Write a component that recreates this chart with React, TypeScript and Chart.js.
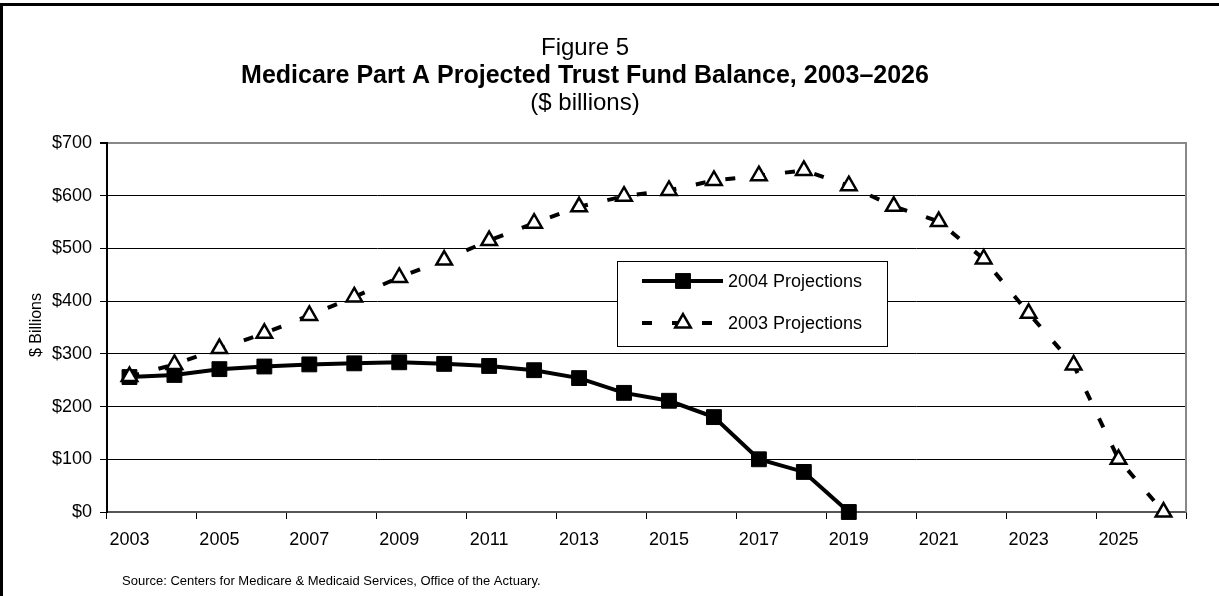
import React, { useEffect, useRef } from 'react';
import { Chart, registerables } from 'chart.js';

Chart.register(...registerables);

const years = ['2003', '2004', '2005', '2006', '2007', '2008', '2009', '2010', '2011', '2012', '2013', '2014', '2015', '2016', '2017', '2018', '2019', '2020', '2021', '2022', '2023', '2024', '2025', '2026'];
const proj2004 = [256, 260, 271, 276, 280, 282, 284, 281, 277, 269, 254, 226, 211, 180, 100, 76, 0, null, null, null, null, null, null, null];
const proj2003 = [257, 280, 310, 339, 373, 408, 445, 478, 515, 548, 579, 599, 610, 629, 638, 648, 619, 580, 551, 480, 377, 279, 100, 0];
const seriesNames = ['2004 Projections', '2003 Projections'];
const yMin = 0;
const yMax = 700;
const yStep = 100;
const titleLines = ['Figure 5', 'Medicare Part A Projected Trust Fund Balance, 2003\u20132026', '($ billions)'];
const yAxisTitle = '$ Billions';
const sourceText = 'Source: Centers for Medicare & Medicaid Services, Office of the Actuary.';

const FONT = '"Liberation Sans", Arial, sans-serif';
const W = 1219;
const H = 596;

const decorPlugin = {
  id: 'decor',
  beforeDraw(chart: any) {
    const ctx = chart.ctx;
    ctx.save();
    ctx.fillStyle = '#fff';
    ctx.fillRect(0, 0, W, H);
    ctx.restore();
  },
  afterDraw(chart: any) {
    const ctx = chart.ctx;
    const area = chart.chartArea;
    ctx.save();
    // outer frame (left and top)
    ctx.fillStyle = '#000';
    ctx.fillRect(0, 3, W, 3);
    ctx.fillRect(0, 3, 3, H - 3);

    // right plot border
    ctx.strokeStyle = '#888';
    ctx.lineWidth = 2;
    ctx.beginPath();
    ctx.moveTo(area.right, area.top - 1);
    ctx.lineTo(area.right, area.bottom);
    ctx.stroke();

    // titles
    ctx.fillStyle = '#000';
    ctx.textAlign = 'center';
    ctx.textBaseline = 'alphabetic';
    const cx = 585;
    ctx.font = `24px ${FONT}`;
    ctx.fillText(titleLines[0], cx, 55);
    ctx.font = `bold 25px ${FONT}`;
    ctx.fillText(titleLines[1], cx, 83);
    ctx.font = `24px ${FONT}`;
    ctx.fillText(titleLines[2], cx, 110);

    // y axis title
    ctx.save();
    ctx.translate(41, 325);
    ctx.rotate(-Math.PI / 2);
    ctx.font = `16px ${FONT}`;
    ctx.textAlign = 'center';
    ctx.textBaseline = 'alphabetic';
    ctx.fillText(yAxisTitle, 0, 0);
    ctx.restore();

    // source
    ctx.font = `13px ${FONT}`;
    ctx.textAlign = 'left';
    ctx.fillText(sourceText, 122, 585);

    // legend
    const lx = 617.5, ly = 261.5, lw = 270, lh = 85;
    ctx.fillStyle = '#fff';
    ctx.fillRect(lx, ly, lw, lh);
    ctx.strokeStyle = '#000';
    ctx.lineWidth = 1;
    ctx.strokeRect(lx, ly, lw, lh);
    const rows = [281, 323];
    const ds = chart.data.datasets;
    rows.forEach((ry, i) => {
      const d = ds[i];
      ctx.save();
      ctx.strokeStyle = d.borderColor;
      ctx.lineWidth = d.borderWidth;
      ctx.setLineDash(d.borderDash || []);
      ctx.beginPath();
      ctx.moveTo(642, ry);
      ctx.lineTo(723, ry);
      ctx.stroke();
      ctx.restore();
      ctx.save();
      ctx.setLineDash([]);
      ctx.fillStyle = d.pointBackgroundColor;
      ctx.strokeStyle = d.pointBorderColor;
      ctx.lineWidth = d.pointBorderWidth;
      ctx.beginPath();
      if (d.pointStyle === 'rect') {
        const s = Math.SQRT1_2 * d.pointRadius;
        ctx.rect(683 - s, ry - s, 2 * s, 2 * s);
      } else {
        const r = d.pointRadius;
        const a = (2 * Math.PI) / 3;
        ctx.moveTo(683, ry - r);
        ctx.lineTo(683 + Math.sin(a) * r, ry - Math.cos(a) * r);
        ctx.lineTo(683 + Math.sin(2 * a) * r, ry - Math.cos(2 * a) * r);
        ctx.closePath();
      }
      ctx.fill();
      ctx.stroke();
      ctx.restore();
      ctx.fillStyle = '#000';
      ctx.font = `18px ${FONT}`;
      ctx.textAlign = 'left';
      ctx.textBaseline = 'middle';
      ctx.fillText(d.label, 728, ry + 1);
    });
    ctx.restore();
  },
};

export default function App() {
  const ref = useRef<HTMLCanvasElement | null>(null);
  useEffect(() => {
    if (!ref.current) return;
    const chart = new Chart(ref.current, {
      type: 'line',
      data: {
        labels: years,
        datasets: [
          {
            label: seriesNames[0],
            data: proj2004,
            borderColor: '#000',
            backgroundColor: '#000',
            borderWidth: 4,
            pointStyle: 'rect',
            pointRadius: 10.5,
            pointBorderWidth: 1,
            pointBackgroundColor: '#000',
            pointBorderColor: '#000',
            tension: 0,
            clip: false,
            order: 1,
          } as any,
          {
            label: seriesNames[1],
            data: proj2003,
            borderColor: '#000',
            backgroundColor: '#fff',
            borderWidth: 4,
            borderDash: [10, 20],
            pointStyle: 'triangle',
            pointRadius: 9,
            pointBorderWidth: 2.5,
            pointBackgroundColor: '#fff',
            pointBorderColor: '#000',
            tension: 0,
            clip: false,
            order: 0,
          } as any,
        ],
      },
      options: {
        animation: false,
        responsive: false,
        events: [],
        layout: { padding: { left: 0, right: W - 1186, top: 143, bottom: 0 } },
        plugins: {
          legend: { display: false },
          title: { display: false },
          tooltip: { enabled: false },
        },
        scales: {
          x: {
            type: 'category',
            offset: true,
            grid: {
              offset: true,
              drawOnChartArea: false,
              tickLength: 7,
              lineWidth: 1,
              color: (c: any) => (c.index === undefined || c.index % 2 === 0 ? '#000' : 'rgba(0,0,0,0)'),
            },
            border: { color: '#555', width: 2 },
            ticks: {
              autoSkip: false,
              maxRotation: 0,
              minRotation: 0,
              padding: 10,
              color: '#000',
              font: { family: FONT, size: 18 },
              callback: (_v: any, i: number) => (i % 2 === 0 ? years[i] : ''),
            },
            afterFit: (s: any) => {
              s.height = H - 512;
            },
          },
          y: {
            min: yMin,
            max: yMax,
            grid: {
              tickLength: 7,
              color: (c: any) => (c.tick && c.tick.value === yMax ? '#888' : c.tick && c.tick.value === yMin ? 'rgba(0,0,0,0)' : '#000'),
              lineWidth: (c: any) => (c.tick && c.tick.value === yMax ? 2 : 1),
              tickColor: '#000',
            },
            border: { color: '#000', width: 2 },
            ticks: {
              stepSize: yStep,
              padding: 8,
              color: '#000',
              font: { family: FONT, size: 18 },
              callback: (v: any) => '$' + v,
            },
            afterFit: (s: any) => {
              s.width = 107;
            },
          },
        },
      },
      plugins: [decorPlugin],
    });
    return () => chart.destroy();
  }, []);
  return (
    <div style={{ position: 'absolute', left: 0, top: 0, width: W, height: H }}>
      <canvas ref={ref} width={W} height={H} style={{ display: 'block', width: W, height: H }} />
    </div>
  );
}
